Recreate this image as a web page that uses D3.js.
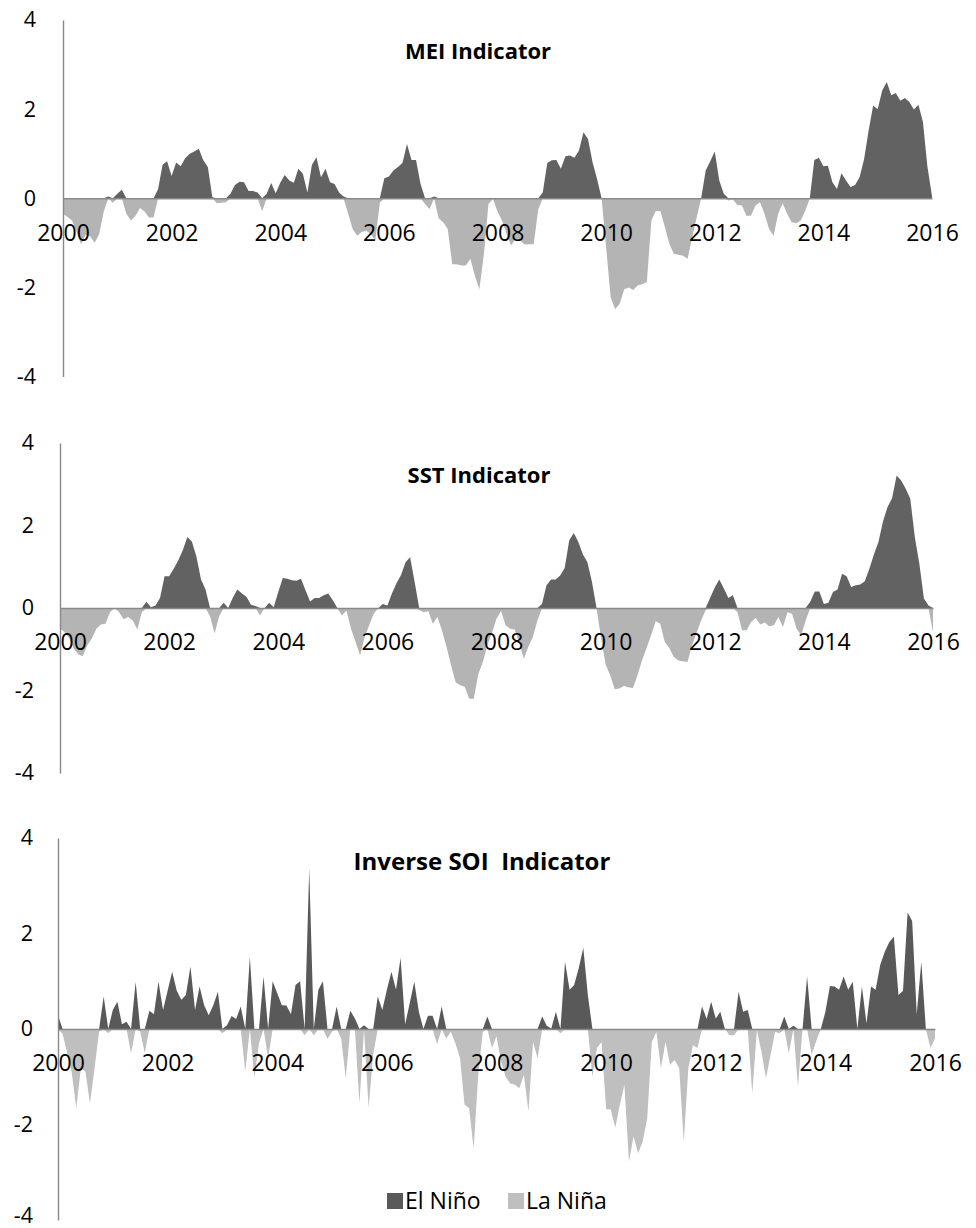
<!DOCTYPE html>
<html><head><meta charset="utf-8">
<script src="https://cdn.jsdelivr.net/npm/d3@7"></script>
<style>
body{margin:0;background:#fff}
svg{display:block}
text{font-family:"Open Sans",sans-serif;fill:#000}
</style>
</head><body>
<svg id="c" width="976" height="1228"></svg>
<script>
// ---- data (monthly, Jan 2000 .. Jan 2016) ----
const startYear = 2000;
const yearTicks = [2000, 2002, 2004, 2006, 2008, 2010, 2012, 2014, 2016];
const yTicks = [4, 2, 0, -2, -4];
const titles = ["MEI Indicator", "SST Indicator", "Inverse SOI  Indicator"];
const legendLabels = ["El Niño", "La Niña"];

const mei = [
 -0.35,-0.42,-0.5,-0.75,-1.03,-0.82,-0.85,-1.0,-0.8,-0.3,0.04,-0.1,
 0.1,0.19,-0.35,-0.5,-0.4,-0.22,-0.3,-0.43,-0.43,0.2,0.75,0.83,
 0.5,0.8,0.72,0.9,1.0,1.05,1.11,0.85,0.7,0.02,-0.11,-0.1,
 -0.09,0.1,0.3,0.37,0.36,0.16,0.16,0.13,-0.29,0.1,0.34,0.11,
 0.35,0.52,0.4,0.35,0.66,0.55,0.13,0.75,0.92,0.47,0.66,0.36,
 0.32,0.13,0.04,-0.35,-0.69,-0.84,-0.76,-0.73,-0.8,-0.95,-0.1,0.45,
 0.49,0.62,0.7,0.79,1.22,0.86,0.86,0.32,-0.13,-0.24,0.04,-0.45,
 -0.54,-0.69,-1.48,-1.48,-1.51,-1.51,-1.36,-1.74,-2.04,-1.25,-0.13,-0.01,
 -0.3,-0.5,-0.8,-1.06,-0.91,-0.95,-1.04,-1.03,-1.03,-0.25,0.13,0.79,
 0.85,0.86,0.66,0.94,0.96,0.91,1.07,1.48,1.33,0.81,0.43,0.0,
 -1.1,-2.22,-2.49,-2.37,-2.04,-2.0,-2.06,-1.95,-1.93,-1.88,-0.5,-0.28,
 -0.29,-0.65,-1.03,-1.25,-1.27,-1.29,-1.36,-0.88,-0.43,0.0,0.62,0.83,
 1.05,0.4,0.1,-0.05,-0.03,-0.15,-0.16,-0.39,-0.39,-0.16,-0.09,-0.35,
 -0.69,-0.84,-0.35,-0.11,-0.35,-0.54,-0.56,-0.5,-0.28,0.0,0.86,0.91,
 0.72,0.73,0.36,0.21,0.56,0.4,0.25,0.3,0.47,0.88,1.52,2.08,
 2.0,2.42,2.61,2.31,2.36,2.19,2.25,2.16,1.99,2.1,1.71,0.7,
 0.05
];

const sst = [
 -0.5,-0.58,-0.72,-0.98,-1.12,-1.17,-0.9,-0.74,-0.5,-0.4,-0.38,-0.1,
 0.0,-0.1,-0.27,-0.22,-0.3,-0.52,-0.1,0.15,0.02,0.06,0.24,0.77,
 0.77,0.95,1.15,1.4,1.72,1.61,1.25,0.7,0.45,-0.2,-0.62,-0.2,
 0.13,0.0,0.25,0.45,0.35,0.27,0.08,0.05,-0.18,0.0,0.13,0.02,
 0.39,0.73,0.71,0.67,0.66,0.71,0.43,0.16,0.24,0.24,0.31,0.35,
 0.19,0.0,-0.18,-0.06,-0.5,-0.82,-1.15,-0.7,-0.42,-0.14,0.0,0.1,
 0.06,0.35,0.6,0.8,1.11,1.23,0.63,-0.05,-0.1,-0.08,-0.38,-0.22,
 -0.54,-0.94,-1.39,-1.8,-1.87,-1.91,-2.2,-2.2,-1.6,-1.31,-0.9,-0.6,
 -0.26,-0.07,-0.42,-0.5,-0.52,-0.85,-1.23,-0.94,-0.7,-0.3,0.1,0.55,
 0.69,0.69,0.79,0.97,1.64,1.82,1.6,1.3,1.11,0.63,0.0,-0.74,
 -1.37,-1.63,-1.97,-1.95,-1.89,-1.92,-1.94,-1.63,-1.27,-0.97,-0.66,-0.32,
 -0.38,-0.82,-0.97,-1.19,-1.27,-1.29,-1.31,-0.9,-0.6,-0.3,-0.05,0.25,
 0.5,0.69,0.47,0.24,0.31,-0.1,-0.54,-0.54,-0.34,-0.24,-0.4,-0.35,
 -0.44,-0.42,-0.22,-0.46,-0.1,-0.14,-0.5,-0.66,-0.3,0.15,0.4,0.4,
 0.1,0.13,0.39,0.45,0.83,0.77,0.51,0.55,0.57,0.65,0.95,1.3,
 1.6,2.1,2.45,2.66,3.21,3.09,2.89,2.65,1.72,1.07,0.23,0.06,
 -0.58
];

const soi = [
 0.29,-0.1,-0.5,-0.9,-1.66,-0.82,-0.89,-1.56,-0.82,-0.06,0.68,-0.09,
 0.4,0.57,0.1,0.15,-0.51,0.99,-0.05,-0.51,0.38,0.31,0.99,0.4,
 0.8,1.2,0.8,0.61,0.71,1.31,0.4,0.89,0.5,0.29,0.5,0.78,
 -0.09,0.08,0.27,0.21,0.47,-0.89,1.51,-1.02,-0.3,1.1,-0.61,1.0,
 0.75,0.5,0.49,0.31,0.92,1.0,-0.13,3.36,-0.13,0.82,1.0,-0.21,
 -0.05,0.47,-0.2,-1.03,0.38,0.22,-1.56,0.08,-1.65,-0.54,0.68,0.4,
 0.82,1.2,0.82,1.49,0.1,0.54,0.99,0.36,0.0,0.28,0.28,-0.32,
 0.47,-0.2,-0.06,-0.3,-0.6,-1.58,-1.66,-2.5,-0.96,-0.06,0.26,-0.4,
 -0.15,-0.68,-1.0,-1.14,-1.17,-1.24,-0.96,-1.73,-0.27,-0.61,0.26,0.07,
 0.01,0.36,-0.09,1.41,0.82,0.92,1.27,1.7,0.71,-1.0,-0.4,-0.27,
 -1.68,-1.68,-2.07,-1.59,-1.17,-2.78,-2.25,-2.6,-2.36,-1.87,-0.27,-0.06,
 -0.82,-0.27,-0.75,-0.65,-0.82,-2.36,-0.82,-0.34,-0.4,0.47,0.21,0.57,
 0.22,0.36,0.0,-0.13,-0.13,0.78,0.36,0.4,-1.35,-0.02,-0.47,-1.03,
 -0.54,-0.06,-0.09,0.26,-0.51,0.07,-1.21,0.0,1.1,-0.54,-0.25,0.0,
 0.36,0.9,0.89,0.82,1.1,0.82,0.99,0.0,0.89,0.12,0.89,0.82,
 1.34,1.62,1.82,1.93,0.71,0.8,2.44,2.26,0.31,1.41,0.0,-0.4,
 -0.2
];

// ---- layout ----
const panels = [
  {data: mei, x0: 63, x1: 932, yTop: 20, yBot: 376.5, tx: 478, ty: 59, ts: 22, labR: 36, dark: "#626262", light: "#b4b4b4"},
  {data: sst, x0: 60, x1: 933, yTop: 443, yBot: 773, tx: 479, ty: 483, ts: 22, labR: 34, dark: "#626262", light: "#b4b4b4"},
  {data: soi, x0: 58, x1: 935, yTop: 838, yBot: 1220, tx: 482, ty: 870, ts: 24, labR: 33, dark: "#595959", light: "#bfbfbf"}
];

const svg = d3.select("#c");
const axisColor = "#898989";

panels.forEach((p, k) => {
  const n = p.data.length - 1;
  const x = d3.scaleLinear().domain([0, n]).range([p.x0, p.x1]);
  const y = d3.scaleLinear().domain([-4, 4]).range([p.yBot, p.yTop]);
  const g = svg.append("g");

  const pos = d3.area().x((d, i) => x(i)).y0(y(0)).y1(d => y(Math.max(d, 0)));
  const neg = d3.area().x((d, i) => x(i)).y0(y(0)).y1(d => y(Math.min(d, 0)));
  g.append("path").datum(p.data).attr("d", neg).attr("fill", p.light);
  g.append("path").datum(p.data).attr("d", pos).attr("fill", p.dark);

  // x axis at zero
  const xa = d3.axisBottom(x)
    .tickValues(yearTicks.map(yr => (yr - startYear) * 12))
    .tickFormat(v => String(startYear + v / 12))
    .tickSize(0).tickSizeOuter(0).tickPadding(26);
  const gx = g.append("g").attr("transform", `translate(0,${y(0)})`).call(xa);
  gx.select(".domain").attr("stroke", axisColor).attr("stroke-width", 1.4);
  gx.selectAll("text").attr("font-size", 23).attr("font-family", "Open Sans").attr("fill", "#000");

  // y axis
  const ya = d3.axisLeft(y).tickValues(yTicks).tickFormat(d3.format("d"))
    .tickSize(0).tickSizeOuter(0).tickPadding(p.x0 - p.labR);
  const gy = g.append("g").attr("transform", `translate(${p.x0},0)`).call(ya);
  gy.select(".domain").attr("stroke", axisColor).attr("stroke-width", 1.4);
  gy.selectAll("text").attr("font-size", 21.5).attr("font-family", "Open Sans").attr("fill", "#000")
    .text(d => d < 0 ? "-" + Math.abs(d) : String(d))
    .attr("dy", d => (k === 2 && d === -4) ? "0.1em" : "0.32em");

  // title
  g.append("text").attr("x", p.tx).attr("y", p.ty).attr("text-anchor", "middle")
    .attr("font-size", p.ts).attr("font-weight", "bold").style("white-space", "pre")
    .text(titles[k]);
});

// legend
const legendColors = ["#595959", "#bfbfbf"];
const legendX = [387, 508];
legendLabels.forEach((lab, i) => {
  svg.append("rect").attr("x", legendX[i]).attr("y", 1193).attr("width", 16).attr("height", 16).attr("fill", legendColors[i]);
  svg.append("text").attr("x", legendX[i] + 18).attr("y", 1209).attr("font-size", 23).text(lab);
});
</script>
</body></html>
